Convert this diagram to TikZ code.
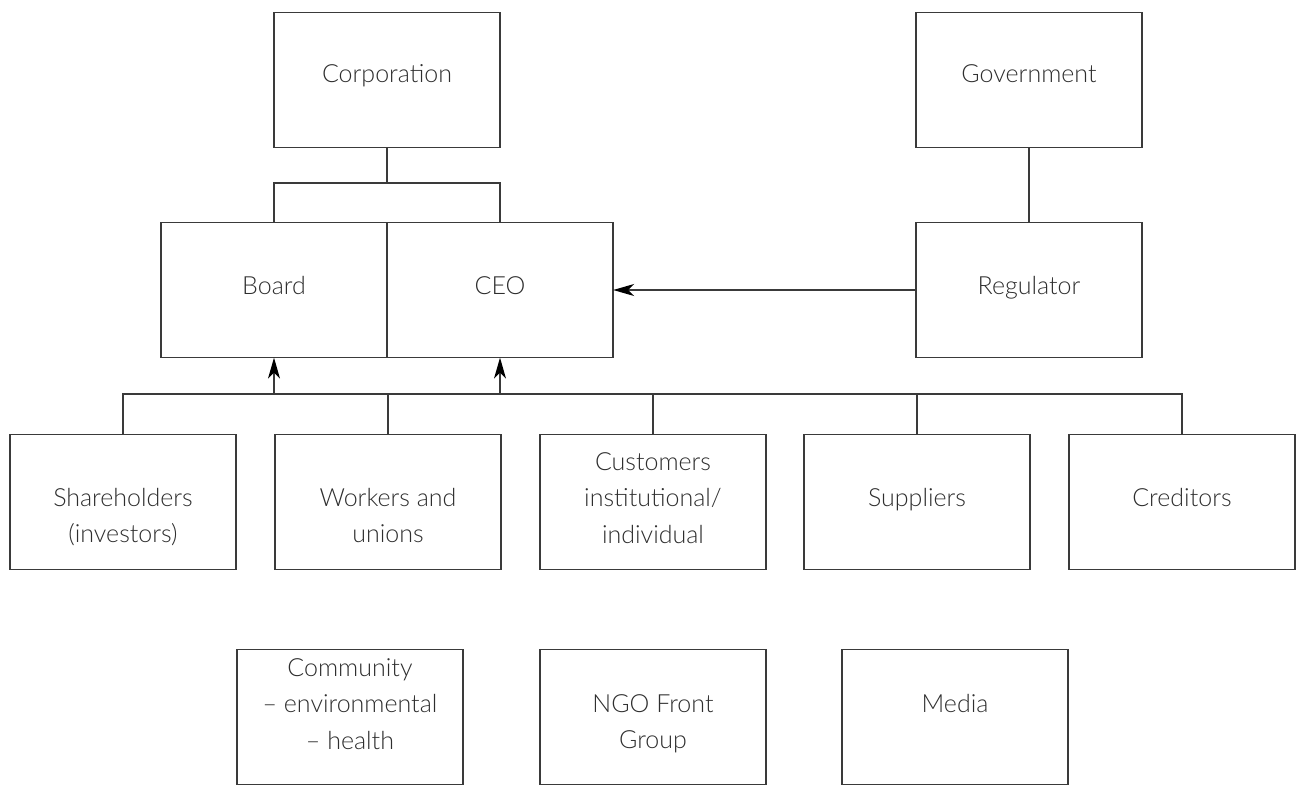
\documentclass[tikz,border=0pt]{standalone}
\usepackage{fontspec}
\setmainfont{Lato Light}
\usetikzlibrary{arrows.meta}
\definecolor{ln}{HTML}{3A3A3A}
\definecolor{tx}{HTML}{2E2E2E}
\begin{document}
\begin{tikzpicture}[x=1pt,y=-1pt,
  box/.style={draw=ln, line width=1.3pt, minimum width=226pt, minimum height=135pt, inner sep=0pt},
  lbl/.style={text=tx, font=\fontsize{25}{36.5}\selectfont, align=center, anchor=north, inner sep=0pt},
  conn/.style={draw=ln, line width=1.3pt},
  arr/.style={conn, -{Stealth[length=21pt,width=12pt,inset=6pt,color=black]}, shorten >=-0.5pt}]
\useasboundingbox (0,0) rectangle (1300,808);
% top
\node[box] (corp) at (387,80) {};
\node[box] (gov) at (1029,80) {};
\node[box] (board) at (274,290) {};
\node[box] (ceo) at (500,290) {};
\node[box] (reg) at (1029,290) {};
% row 2
\node[box] (sh) at (123,502) {};
\node[box] (wk) at (388,502) {};
\node[box] (cu) at (653,502) {};
\node[box] (su) at (917,502) {};
\node[box] (cr) at (1182,502) {};
% row 3
\node[box] (co) at (350,717) {};
\node[box] (ngo) at (653,717) {};
\node[box] (me) at (955,717) {};
% labels
\node[lbl] (tcorp) at (387,64) {Corporation};
\node[lbl] (tgov) at (1029,64) {Government};
\node[lbl] (tboard) at (274,276) {Board};
\node[lbl] (tceo) at (500,276) {CEO};
\node[lbl] (treg) at (1029,276) {Regulator};
\node[lbl] (tsh) at (123,488) {Shareholders\\(investors)};
\node[lbl] (twk) at (388,488) {Workers and\\unions};
\node[lbl] (tcu) at (653,452) {Customers\\institutional/\\individual};
\node[lbl] (tsu) at (917,488) {Suppliers};
\node[lbl] (tcr) at (1182,488) {Creditors};
\node[lbl] (tco) at (350,658) {Community\\-- environmental\\-- health};
\node[lbl] (tngo) at (653,694) {NGO Front\\Group};
\node[lbl] (tme) at (955,694) {Media};
% connectors
\coordinate (j1) at (387,183);
\draw[conn] (corp.south) -- (j1);
\draw[conn] (board.north) |- (j1) -| (ceo.north);
\draw[conn] (gov.south) -- (reg.north);
\draw[arr] (reg.west) -- (ceo.east);
\coordinate (bus) at (0,394);
\draw[conn] (sh.north) -- (sh.north |- bus) -- (cr.north |- bus) -- (cr.north);
\draw[conn] (wk.north) -- (wk.north |- bus);
\draw[conn] (cu.north) -- (cu.north |- bus);
\draw[conn] (su.north) -- (su.north |- bus);
\draw[arr] (board.south |- bus) -- (board.south);
\draw[arr] (ceo.south |- bus) -- (ceo.south);
\end{tikzpicture}
\end{document}
